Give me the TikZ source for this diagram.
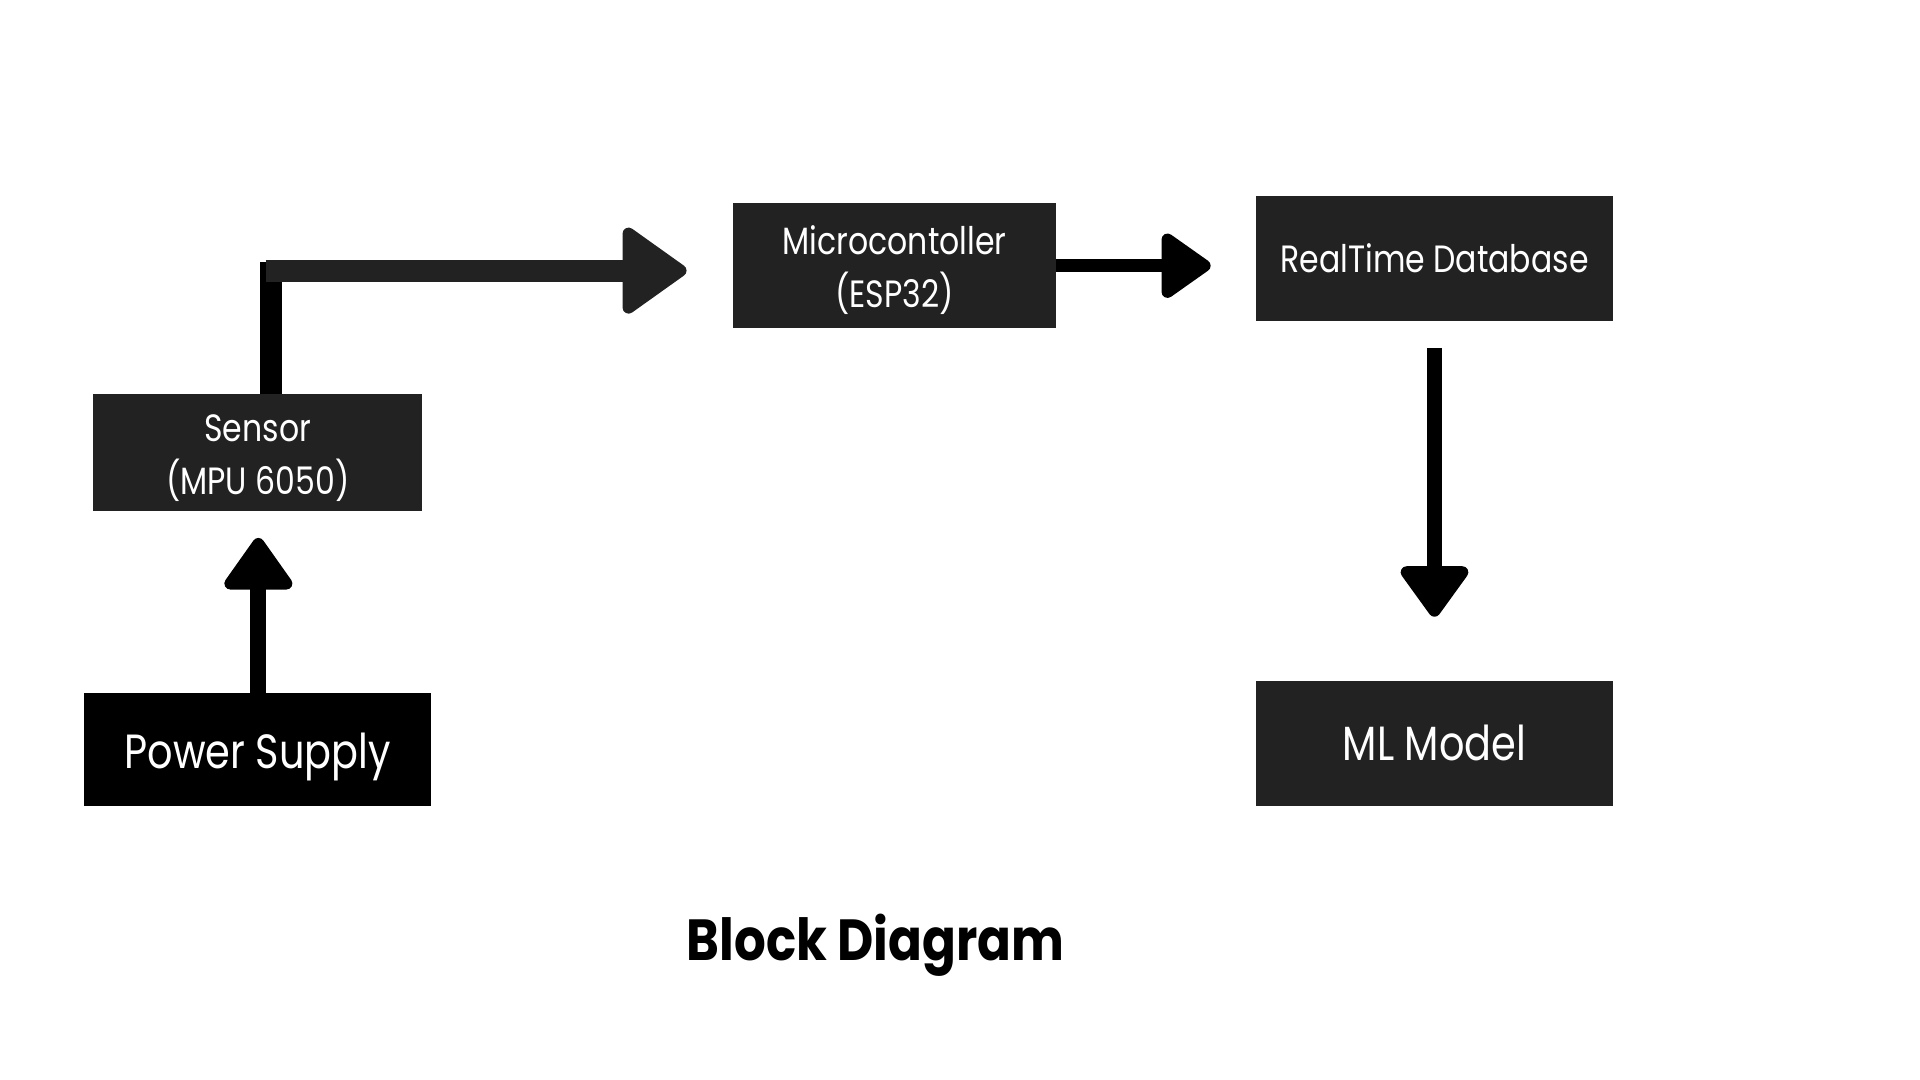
\documentclass[tikz,border=0pt]{standalone}
\usepackage{fontspec}
\usetikzlibrary{arrows.meta}
\newfontfamily\boxfont[FakeStretch=0.83]{Poppins}
\newfontfamily\titlefont[FakeStretch=0.86]{Poppins Bold}
\definecolor{boxgray}{RGB}{34,34,34}
\def\px{0.6122pt}
\newcommand\toprule[1]{\rule{0pt}{#1}}
\tikzset{%
  block/.style = {rectangle,fill=boxgray,text=white,align=center,
        inner sep=0pt,font=\boxfont\fontsize{19}{26.5}\selectfont},
  bigblock/.style = {block,font=\boxfont\fontsize{24}{30}\selectfont},
  bar/.style = {line width=#1*\px},
  head/.style args = {#1/#2}{-{Triangle[width=#1*\px,length=#2*\px,
        line width=6pt,round]}}
}

\begin{document}
\begin{tikzpicture}[x=\px,y=-\px]
    \useasboundingbox[fill=white] (0,0) rectangle (1568,882);
    \node[block,minimum width=269*\px,minimum height=95*\px]
        (sensor) at (210.5,369.5) {\toprule{19pt}Sensor\\(MPU 6050)};
    \node[block,minimum width=263*\px,minimum height=102*\px]
        (micro) at (730.5,217) {\toprule{19pt}Microcontoller\\(ESP32)};
    \node[block,minimum width=291*\px,minimum height=102*\px] (rtdb)
        at (1171.5,211) {RealTime Database};
    \node[bigblock,minimum width=291*\px,minimum height=102*\px] (ml)
        at (1171.5,607) {ML Model};
    \node[bigblock,fill=black,minimum width=283*\px,
        minimum height=92*\px] (power) at (210.5,612)
        {\toprule{25pt}Power Supply};
    \node[font=\titlefont\fontsize{29}{32}\selectfont] (title)
        at (715,772) {Block Diagram};
    \coordinate (bendtop) at (221,214);
    \coordinate (bend) at (217,221);
    % sensor up and over to the microcontroller
    \draw[bar=18,black] (sensor.north -| bendtop) -- (bendtop);
    \draw[bar=18,boxgray,head=77/56,shorten >=38*\px]
        (bend) -- (bend -| micro.west);
    \draw[bar=11,black,head=59/44,shorten >=37*\px]
        (micro.east) -- (micro.east -| rtdb.west);
    \draw[bar=13,black,head=62/45,shorten <=22*\px,shorten >=52*\px]
        (rtdb.south) -- (ml.north);
    \draw[bar=13,black,head=62/46,shorten >=22*\px]
        ([xshift=0.5*\px]power.north) -- ([xshift=0.5*\px]sensor.south);
\end{tikzpicture}
\end{document}
